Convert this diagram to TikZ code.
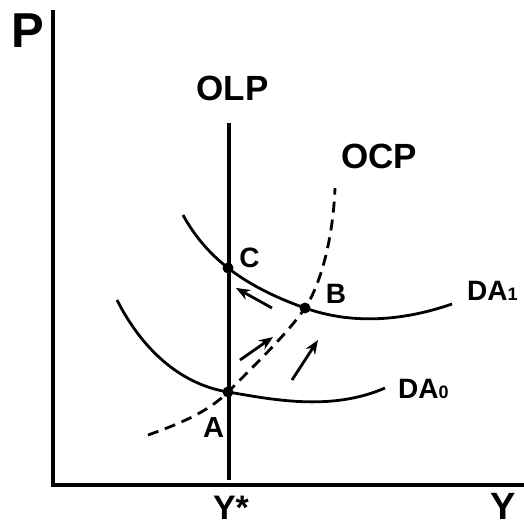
\documentclass[tikz,border=0pt]{standalone}
\usepackage{fontspec}
\setmainfont{Liberation Sans}
\usetikzlibrary{arrows.meta}
\begin{document}
\begin{tikzpicture}[x=1pt,y=-1pt,
  axis/.style={line width=4.5pt},
  curve/.style={line width=2.8pt},
  dcurve/.style={line width=2.8pt,dash pattern=on 11pt off 7pt},
  dot/.style={circle,fill=black,inner sep=0pt,minimum size=11pt},
  lbl/.style={font=\fontsize{28}{30}\selectfont\bfseries,inner sep=0pt,anchor=base},
  biglbl/.style={font=\fontsize{35}{36}\selectfont\bfseries,inner sep=0pt,anchor=base},
  arr/.style={line width=2.8pt,-{Stealth[length=14pt,width=11pt]}}]
\useasboundingbox (0,0) rectangle (524,527);
% axes
\coordinate (ytop) at (53,10);
\coordinate (orig) at (53,487);
\coordinate (xstart) at (51,485);
\coordinate (xend) at (524,485);
\draw[axis] (ytop) -- (orig);
\draw[axis] (xstart) -- (xend);
\node[font=\fontsize{49}{50}\selectfont\bfseries,inner sep=0pt,anchor=base] (P) at (28,48) {P};
\node[font=\fontsize{38}{40}\selectfont\bfseries,inner sep=0pt,anchor=base,text depth=0pt] (Y) at (503.5,519) {Y};
\node[font=\fontsize{34}{36}\selectfont\bfseries,inner sep=0pt,anchor=base,text depth=0pt] (Ys) at (231,519) {Y*};
% OLP
\coordinate (olptop) at (229,123);
\coordinate (olpbot) at (229,480);
\draw[line width=3.2pt] (olptop) -- (olpbot);
\node[biglbl] (OLP) at (232.5,100) {OLP};
% OCP
\draw[dcurve] (148,435) .. controls (185,422) and (210,410) .. (228,392)
  .. controls (265,355) and (290,330) .. (305,308)
  .. controls (320,286) and (333,240) .. (335,188);
\node[biglbl] (OCP) at (379,168) {OCP};
% DA1
\draw[curve] (183,215) .. controls (205,255) and (240,285) .. (305,308)
  .. controls (350,324) and (400,322) .. (452,304);
\node[lbl,anchor=base west] (DA1) at (467,300) {DA{\fontsize{18}{18}\selectfont 1}};
% DA0
\draw[curve] (117,300) .. controls (145,355) and (185,385) .. (228,392)
  .. controls (270,399) and (330,412) .. (385,388);
\node[lbl,anchor=base west] (DA0) at (398,398) {DA{\fontsize{18}{18}\selectfont 0}};
% points
\node[dot] (C) at (228,268) {};
\node[dot] (B) at (305,308) {};
\node[dot] (A) at (228,392) {};
\node[lbl] (Cl) at (249.5,267) {C};
\node[lbl] (Bl) at (336,303) {B};
\node[lbl,font=\fontsize{29}{30}\selectfont\bfseries] (Al) at (213.5,437) {A};
% arrows
\coordinate (a1s) at (272,308); \coordinate (a1e) at (236,288);
\coordinate (a2s) at (240,360); \coordinate (a2e) at (273,337);
\coordinate (a3s) at (292,380); \coordinate (a3e) at (318,340);
\draw[arr] (a1s) -- (a1e);
\draw[arr] (a2s) -- (a2e);
\draw[arr] (a3s) -- (a3e);
\end{tikzpicture}
\end{document}
